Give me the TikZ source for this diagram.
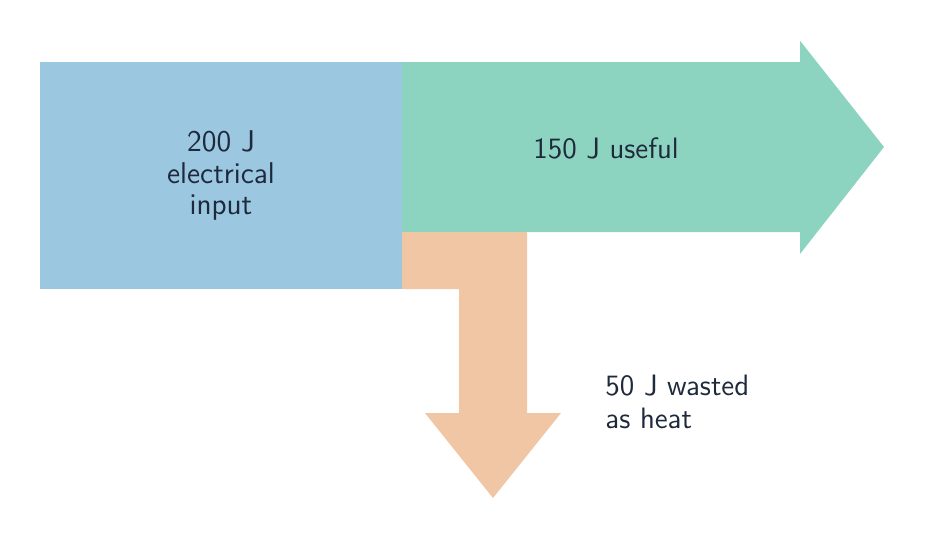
\documentclass[tikz,border=0pt]{standalone}
\usepackage{fontspec}
\usepackage{xcolor}
\usepackage{tikz}
\usetikzlibrary{positioning}

\definecolor{inblue}{HTML}{9BC7E1}
\definecolor{usegreen}{HTML}{8DD4C0}
\definecolor{heatorange}{HTML}{F1C6A5}
\definecolor{labelink}{HTML}{1E293B}

\begin{document}
\begin{tikzpicture}[
  x=1.42857mm,
  y=-1.42857mm,
  every node/.style={
    text=labelink,
    font=\sffamily\fontsize{12}{13.1}\selectfont
  },
  flow/.style={draw=none}
]
  \useasboundingbox (0,0) rectangle (92.5,53.9);

  % input block
  \fill[inblue, flow] (4,6.2) rectangle (40.2,28.9);

  % useful output
  \fill[usegreen, flow] (40.2,6.2) -- (80,6.2) -- (80,4.07) -- (88.4,14.7)
    -- (80,25.4) -- (80,23.2) -- (40.2,23.2) -- cycle;

  % wasted heat
  \fill[heatorange, flow] (40.2,23.2) -- (52.7,23.2) -- (52.7,41.3)
    -- (56.1,41.3) -- (49.3,49.8) -- (42.5,41.3) -- (45.9,41.3)
    -- (45.9,28.9) -- (40.2,28.9) -- cycle;

  \node[align=center, font=\sffamily\fontsize{12.2}{12.8}\selectfont] (input) at (22.1,17.55)
    {200 J\\electrical\\input};
  \node (useful) at (60.6,14.8) {150 J useful};
  \node[align=left, anchor=north west, inner sep=0pt] (heat) at (60.5,37.5)
    {50 J wasted\\as heat};

\end{tikzpicture}
\end{document}
